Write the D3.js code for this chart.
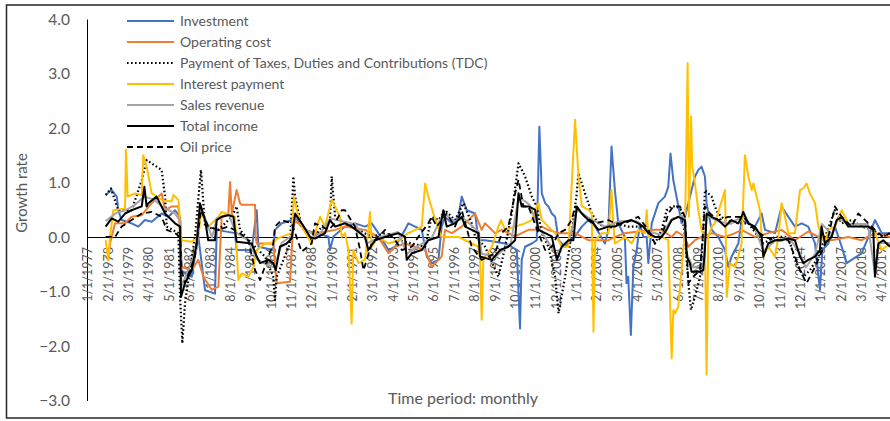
<!DOCTYPE html>
<html>
<head>
<meta charset="utf-8">
<script src="https://cdn.jsdelivr.net/npm/d3@7"></script>
<style>
  body { margin: 0; background: #fff; }
  svg { display: block; font-family: Lato, "Open Sans", sans-serif; }
</style>
</head>
<body>
<script>
// Values: [decimal year, growth rate]
const investment = [
  [1977.94,0.78],[1978.26,0.87],[1978.53,0.75],[1978.61,0.5],[1978.79,0.32],[1979.32,0.26],[1979.68,0.2],
  [1980.03,0.32],[1980.39,0.29],[1980.92,0.44],[1981.28,0.38],[1981.63,0.5],[1981.9,0.38],[1981.98,-0.6],
  [1982.16,-0.66],[1982.52,-0.72],[1982.69,-0.35],[1982.87,0.02],[1983.23,-0.97],[1983.76,-1.03],[1983.85,0.14],
  [1984.82,0.08],[1984.91,-0.23],[1985.71,-0.23],[1985.98,0.5],[1986.07,-0.17],[1986.86,-0.23],[1986.95,0.14],
  [1987.31,0.26],[1987.84,0.32],[1988.02,0.38],[1988.55,0.14],[1989.08,0.08],[1989.79,0.02],[1989.88,-0.23],
  [1990.06,0.02],[1990.68,0.2],[1991.21,0.26],[1991.74,0.2],[1992.1,0.26],[1992.45,0.08],[1992.99,-0.23],
  [1993.34,-0.17],[1993.87,0.14],[1994.05,0.26],[1994.41,0.2],[1994.76,0.14],[1995.03,-0.35],[1995.29,-0.47],
  [1995.65,-0.41],[1995.82,0.2],[1996.0,0.38],[1996.36,0.26],[1996.71,0.38],[1996.89,0.75],[1997.16,0.5],
  [1997.6,0.44],[1997.78,-0.05],[1998.13,-0.05],[1998.66,-0.08],[1999.2,-0.11],[1999.55,-0.17],[1999.82,-0.23],
  [1999.99,-1.67],[2000.08,-0.41],[2000.26,-0.17],[2000.62,-0.11],[2000.88,-0.05],[2001.02,2.03],[2001.15,0.81],
  [2001.33,0.63],[2001.5,0.57],[2001.68,0.44],[2001.86,0.38],[2002.04,-0.05],[2002.39,-0.17],[2002.92,0.02],
  [2003.28,0.2],[2003.63,0.32],[2003.99,0.2],[2004.51,-0.11],[2004.69,0.14],[2004.86,1.67],[2005.04,0.87],
  [2005.22,0.26],[2005.57,0.01],[2005.66,-0.84],[2005.75,-0.72],[2005.89,-1.79],[2006.02,-0.54],[2006.2,-0.23],
  [2006.37,0.26],[2006.55,0.01],[2006.73,0.01],[2006.82,-0.47],[2007.0,0.26],[2007.35,0.63],[2007.7,0.75],
  [2007.88,0.93],[2008.0,1.54],[2008.15,1.05],[2008.32,0.75],[2008.59,0.26],[2008.77,0.38],[2009.12,0.87],
  [2009.3,1.12],[2009.48,1.24],[2009.65,1.3],[2009.83,1.12],[2009.92,0.63],[2010.19,0.14],[2010.54,0.01],
  [2010.9,-0.23],[2011.07,-0.54],[2011.25,-0.35],[2011.61,-0.11],[2011.78,0.32],[2012.49,0.2],[2012.85,0.44],
  [2013.03,0.14],[2013.56,0.08],[2013.91,0.57],[2014.27,0.38],[2014.62,0.2],[2014.98,0.26],[2015.33,0.2],
  [2015.69,-0.11],[2015.95,-0.96],[2016.08,-0.23],[2016.4,-0.11],[2016.75,0.2],[2017.11,-0.17],[2017.37,-0.47],
  [2017.64,-0.41],[2018.17,-0.29],[2018.53,0.01],[2018.88,0.32],[2019.24,0.08],[2019.68,0.08]
];

const operatingCost = [
  [1977.94,-0.35],[1978.08,-0.41],[1978.17,-0.11],[1978.44,0.26],[1978.97,0.26],[1979.32,0.38],[1979.86,0.41],
  [1980.39,0.63],[1980.92,0.81],[1981.1,0.5],[1981.45,0.57],[1981.81,0.57],[1981.98,-0.54],[1982.52,-0.6],
  [1982.87,-0.41],[1983.14,-0.72],[1983.58,-0.96],[1983.94,-0.9],[1984.11,0.38],[1984.47,0.44],[1984.56,1.02],
  [1984.65,0.44],[1984.91,0.87],[1985.09,0.63],[1985.18,0.6],[1985.89,0.6],[1985.92,0.01],[1985.98,-0.11],
  [1986.86,-0.11],[1987.04,-0.84],[1987.75,-0.81],[1987.93,0.32],[1988.2,0.26],[1988.55,0.14],[1989.08,0.08],
  [1989.7,0.11],[1990.15,0.14],[1990.68,0.2],[1991.74,0.14],[1992.45,0.01],[1992.99,-0.29],[1993.34,-0.17],
  [1993.87,-0.11],[1994.94,-0.23],[1995.29,-0.54],[1995.82,-0.35],[1996.0,0.14],[1996.36,0.08],[1996.89,0.2],
  [1997.6,0.44],[1997.95,0.14],[1998.13,0.26],[1998.66,0.08],[1999.02,0.14],[1999.37,0.08],[1999.73,0.02],
  [2000.08,0.08],[2000.44,0.14],[2000.79,0.14],[2001.15,0.2],[2001.5,0.14],[2002.04,0.08],[2002.92,0.08],
  [2003.63,-0.05],[2004.7,-0.05],[2005.04,0.01],[2005.57,0.08],[2006.28,0.11],[2007.17,0.14],[2007.53,0.14],
  [2008.06,0.01],[2008.32,0.11],[2008.77,0.01],[2008.95,-0.17],[2009.3,-0.05],[2009.65,0.01],[2010.19,0.08],
  [2010.9,0.01],[2011.43,0.08],[2011.78,0.14],[2012.49,0.01],[2013.2,0.08],[2013.91,0.14],[2014.62,-0.05],
  [2015.33,0.11],[2015.87,0.01],[2016.57,-0.05],[2017.46,0.01],[2018.17,-0.05],[2018.88,0.08],[2019.68,0.01]
];

const taxesTDC = [
  [1977.94,0.78],[1978.22,0.9],[1978.61,0.5],[1979.32,0.5],[1979.86,1.05],[1980.12,1.42],[1980.92,1.24],
  [1981.1,0.75],[1981.19,0.2],[1981.81,0.08],[1981.9,-1.09],[1982.02,-1.94],[1982.16,-1.21],[1982.69,0.01],
  [1983.01,1.24],[1983.23,0.2],[1983.94,0.14],[1984.65,0.38],[1984.91,0.57],[1985.09,0.14],[1985.71,-0.11],
  [1986.42,-0.35],[1986.86,-0.72],[1986.95,-1.15],[1987.04,-0.72],[1987.75,-0.11],[1987.93,1.12],[1988.02,0.75],
  [1988.37,0.2],[1988.9,-0.05],[1989.44,0.2],[1989.88,0.32],[1989.97,1.12],[1990.15,0.38],[1990.68,0.26],
  [1991.39,0.14],[1992.1,0.01],[1992.81,0.08],[1993.52,-0.05],[1994.23,-0.11],[1994.94,-0.17],[1995.29,0.38],
  [1995.65,0.32],[1996.0,0.5],[1996.53,0.32],[1996.98,0.63],[1997.42,0.26],[1997.6,0.02],[1998.13,-0.17],
  [1998.84,-0.72],[1999.2,-0.17],[1999.55,0.44],[1999.91,1.36],[2000.26,1.12],[2000.62,0.75],[2000.88,0.57],
  [2001.15,0.08],[2001.5,-0.17],[2001.86,-0.72],[2002.04,-1.39],[2002.39,-0.72],[2002.74,0.08],[2003.01,0.81],
  [2003.1,1.18],[2003.45,0.81],[2003.81,0.44],[2004.16,0.26],[2004.7,0.14],[2005.04,0.26],[2005.75,0.2],
  [2006.64,0.2],[2007.17,-0.11],[2007.53,0.14],[2007.79,0.5],[2008.06,0.57],[2008.32,0.57],[2008.59,0.5],
  [2008.77,0.01],[2008.95,-0.84],[2009.09,-1.33],[2009.3,-1.09],[2009.57,-0.72],[2009.74,0.08],[2009.83,0.87],
  [2010.01,0.81],[2010.19,0.75],[2010.36,0.57],[2010.54,0.44],[2010.9,0.32],[2011.61,0.26],[2012.14,0.26],
  [2012.94,-0.11],[2013.56,0.01],[2014.27,0.01],[2014.62,-0.41],[2015.07,-0.72],[2015.42,-0.6],[2015.87,-0.35],
  [2016.22,0.01],[2016.75,0.5],[2017.11,0.26],[2017.64,0.32],[2018.17,0.2],[2018.79,0.14],[2019.24,0.01],
  [2019.68,0.08]
];

const interestPayment = [
  [1977.94,-0.05],[1978.08,-0.41],[1978.17,0.01],[1978.35,0.5],[1978.97,0.53],[1979.02,1.61],[1979.11,0.75],
  [1979.5,0.81],[1979.86,0.78],[1979.94,1.51],[1980.12,1.3],[1980.39,0.81],[1980.92,0.69],[1981.45,0.66],
  [1981.54,0.78],[1981.81,0.69],[1981.98,-0.05],[1982.52,-0.08],[1982.87,0.01],[1983.01,0.44],[1983.4,0.2],
  [1983.94,0.38],[1984.11,0.47],[1984.82,0.38],[1985.0,-0.78],[1985.18,-0.66],[1985.53,-0.72],[1985.8,-0.54],
  [1985.98,-0.23],[1986.42,-0.11],[1986.86,-0.11],[1987.04,-0.02],[1987.84,0.08],[1987.96,0.75],[1988.11,0.5],
  [1988.37,0.2],[1988.9,-0.11],[1989.08,0.08],[1989.35,0.38],[1989.61,0.2],[1989.97,0.69],[1990.15,0.57],
  [1990.41,0.38],[1990.5,0.01],[1990.68,0.08],[1990.86,-0.23],[1991.03,-1.58],[1991.12,-0.23],[1991.39,-0.47],
  [1991.74,-0.41],[1991.92,0.14],[1992.01,0.47],[1992.1,-0.17],[1992.45,0.01],[1992.99,-0.11],[1993.52,-0.05],
  [1994.05,0.08],[1994.41,0.14],[1994.76,0.2],[1994.94,0.99],[1995.11,0.75],[1995.38,0.44],[1995.82,0.01],
  [1996.18,0.01],[1996.71,0.01],[1997.07,-0.05],[1997.78,-0.17],[1997.87,-0.41],[1997.95,-1.51],[1998.04,-0.41],
  [1998.49,-0.17],[1998.84,0.2],[1998.98,0.32],[1999.2,0.14],[1999.73,0.2],[2000.26,0.26],[2000.62,0.32],
  [2000.97,0.63],[2001.15,0.32],[2001.5,0.2],[2001.86,0.08],[2002.21,-0.17],[2002.57,-0.17],[2002.92,2.16],
  [2003.1,1.12],[2003.28,0.57],[2003.63,0.51],[2003.81,0.44],[2003.9,-1.73],[2003.99,-0.05],[2004.34,0.08],
  [2004.7,0.08],[2004.86,0.87],[2004.95,0.26],[2005.04,-0.11],[2005.57,0.01],[2005.93,-0.11],[2006.28,0.14],
  [2006.64,0.08],[2006.73,0.5],[2006.82,0.01],[2007.53,0.01],[2007.88,-0.05],[2008.06,-2.22],[2008.15,-1.33],
  [2008.24,-1.39],[2008.41,-1.27],[2008.59,-0.6],[2008.77,0.14],[2008.91,3.2],[2008.98,0.38],[2009.09,2.22],
  [2009.16,1.3],[2009.3,0.99],[2009.48,0.5],[2009.65,0.14],[2009.83,0.01],[2009.92,-2.52],[2010.01,0.01],
  [2010.19,0.2],[2010.36,0.26],[2010.9,0.87],[2010.99,-1.09],[2011.16,-0.47],[2011.43,-0.54],[2011.61,-0.35],
  [2011.78,-0.11],[2011.96,1.51],[2012.14,1.12],[2012.32,0.87],[2012.41,0.99],[2012.76,0.5],[2012.85,0.01],
  [2012.94,-0.35],[2013.2,-0.17],[2013.56,-0.35],[2013.74,0.01],[2013.91,0.63],[2014.09,0.38],[2014.27,0.08],
  [2014.62,0.08],[2014.89,0.87],[2015.07,0.9],[2015.24,0.99],[2015.42,0.81],[2015.69,0.63],[2015.87,0.2],
  [2016.22,-0.11],[2016.4,0.14],[2016.75,0.2],[2017.11,0.5],[2017.46,0.26],[2017.99,0.2],[2018.53,0.2],
  [2018.88,0.08],[2019.24,-0.23],[2019.68,-0.11]
];

const salesRevenue = [
  [1977.94,0.3],[1978.5,0.45],[1979.0,0.5],[1979.5,0.6],[1980.0,0.75],[1980.5,0.7],[1981.0,0.55],[1981.6,0.45],
  [1981.92,0.3],[1981.97,-0.9],[1982.4,-0.55],[1982.8,-0.2],[1982.98,0.55],[1983.3,0.3],[1983.6,0.0],
  [1983.85,0.35],[1984.5,0.42],[1984.85,0.1],[1985.5,-0.05],[1986.0,-0.4],[1986.5,-0.5],[1986.95,-0.55],
  [1987.3,-0.1],[1987.9,0.05],[1988.05,0.4],[1988.6,0.15],[1989.2,0.0],[1989.9,0.35],[1990.5,0.3],[1991.2,0.25],
  [1991.9,-0.1],[1992.5,0.0],[1993.5,0.1],[1993.97,-0.3],[1994.6,-0.15],[1995.3,0.0],[1995.92,0.45],[1996.5,0.3],
  [1997.0,0.35],[1997.8,0.1],[1997.95,-0.3],[1998.7,-0.35],[1999.5,-0.1],[1999.92,0.75],[2000.5,0.6],
  [2000.95,0.2],[2001.9,-0.3],[2002.6,-0.05],[2003.02,0.5],[2003.7,0.35],[2004.5,0.2],[2005.3,0.3],[2006.2,0.3],
  [2006.9,0.1],[2007.5,0.05],[2008.1,0.35],[2008.7,0.4],[2008.87,-0.3],[2009.2,-0.55],[2009.75,-0.5],
  [2009.93,0.4],[2010.5,0.3],[2011.2,0.25],[2011.85,0.4],[2012.5,0.15],[2012.95,-0.25],[2013.6,-0.05],
  [2014.3,0.0],[2014.9,-0.3],[2015.2,-0.55],[2015.7,-0.3],[2016.05,0.25],[2016.6,0.05],[2016.9,0.35],
  [2017.5,0.25],[2018.5,0.25],[2018.87,-0.65],[2019.1,-0.1],[2019.68,-0.1]
];

const totalIncome = [
  [1977.94,0.2],[1978.26,0.35],[1978.61,0.29],[1978.97,0.44],[1979.32,0.5],[1979.86,0.57],[1980.0,0.93],
  [1980.12,0.57],[1980.21,0.63],[1980.65,0.75],[1981.1,0.44],[1981.63,0.26],[1981.9,0.2],[1981.95,-1.09],
  [1982.16,-0.84],[1982.52,-0.6],[1982.78,-0.11],[1982.96,0.63],[1983.23,0.32],[1983.4,-0.05],[1983.76,-0.05],
  [1983.85,0.32],[1984.11,0.38],[1984.47,0.41],[1984.74,0.38],[1984.82,0.14],[1984.91,-0.08],[1985.71,-0.11],
  [1985.98,-0.35],[1986.16,-0.47],[1986.6,-0.41],[1986.86,-0.47],[1986.99,-0.6],[1987.22,-0.17],[1987.57,-0.11],
  [1987.84,-0.02],[1988.02,0.44],[1988.37,0.26],[1988.82,0.01],[1989.08,-0.02],[1989.61,0.08],[1989.88,0.32],
  [1990.15,0.2],[1990.41,0.23],[1990.68,0.26],[1991.03,0.2],[1991.74,0.01],[1991.92,-0.23],[1992.28,-0.05],
  [1992.81,0.01],[1993.52,0.08],[1993.87,0.01],[1993.96,-0.41],[1994.23,-0.29],[1994.76,-0.23],[1995.11,-0.05],
  [1995.65,0.01],[1995.91,0.5],[1996.09,0.2],[1996.53,0.26],[1996.89,0.38],[1997.07,0.2],[1997.78,0.08],
  [1997.86,-0.35],[1998.49,-0.41],[1998.93,-0.23],[1999.37,-0.17],[1999.73,-0.05],[1999.91,0.81],[2000.08,0.57],
  [2000.44,0.57],[2000.79,0.51],[2000.97,0.14],[2001.33,0.08],[2001.68,0.02],[2001.95,-0.41],[2002.21,-0.17],
  [2002.57,-0.05],[2002.83,-0.05],[2003.01,0.57],[2003.28,0.44],[2003.63,0.32],[2003.9,0.26],[2004.16,0.14],
  [2004.7,0.2],[2005.04,0.2],[2005.57,0.29],[2005.93,0.32],[2006.28,0.26],[2006.55,0.2],[2006.82,0.08],
  [2007.17,0.01],[2007.53,0.01],[2007.79,0.14],[2008.06,0.32],[2008.41,0.38],[2008.77,0.32],[2008.86,-0.35],
  [2009.03,-0.47],[2009.12,-0.63],[2009.48,-0.63],[2009.74,-0.6],[2009.83,-0.23],[2009.92,0.44],[2010.19,0.38],
  [2010.54,0.32],[2010.9,0.2],[2011.25,0.32],[2011.61,0.26],[2011.78,0.38],[2011.87,0.47],[2012.14,0.26],
  [2012.49,0.2],[2012.85,0.01],[2012.94,-0.35],[2013.2,-0.11],[2013.56,-0.05],[2013.91,-0.05],[2014.27,-0.02],
  [2014.62,-0.05],[2014.89,-0.35],[2015.07,-0.47],[2015.33,-0.41],[2015.69,-0.35],[2015.95,-0.23],[2016.04,0.2],
  [2016.22,-0.11],[2016.57,0.01],[2016.84,0.32],[2017.11,0.38],[2017.46,0.2],[2017.99,0.2],[2018.53,0.2],
  [2018.79,0.14],[2018.88,-0.72],[2019.06,-0.11],[2019.32,-0.05],[2019.68,-0.17]
];

const oilPrice = [
  [1977.94,0.01],[1978.44,0.01],[1978.79,0.2],[1979.32,0.32],[1979.86,0.44],[1980.39,0.47],[1980.92,0.38],
  [1981.19,0.14],[1981.63,0.08],[1981.9,0.01],[1981.98,-0.6],[1982.16,-0.84],[1982.69,-0.35],[1983.01,0.5],
  [1983.4,0.2],[1983.94,0.14],[1984.47,0.2],[1985.09,0.08],[1985.53,-0.05],[1985.89,-0.6],[1986.16,-0.78],
  [1986.6,-0.35],[1986.86,-0.11],[1986.95,0.2],[1987.31,0.32],[1987.84,0.26],[1988.37,-0.26],[1988.9,-0.11],
  [1989.08,0.26],[1989.79,0.14],[1990.15,0.26],[1990.5,0.5],[1990.68,0.5],[1991.21,0.2],[1991.48,-0.23],
  [1991.66,-0.6],[1992.1,-0.11],[1992.81,0.14],[1993.34,-0.05],[1993.7,-0.23],[1994.23,-0.17],[1994.58,0.01],
  [1994.85,0.14],[1995.11,0.26],[1995.29,0.38],[1995.56,0.2],[1995.82,0.32],[1996.09,0.44],[1996.53,0.2],
  [1996.89,0.5],[1997.42,-0.17],[1997.95,-0.41],[1998.66,-0.29],[1999.02,0.08],[1999.37,0.2],[1999.73,0.81],
  [1999.91,1.06],[2000.17,0.57],[2000.44,0.57],[2000.97,0.08],[2001.33,-0.23],[2001.68,-0.17],[2002.04,0.08],
  [2002.39,0.14],[2002.74,0.32],[2002.92,0.57],[2003.45,0.38],[2003.99,0.26],[2004.7,0.32],[2005.04,0.26],
  [2005.57,0.26],[2006.28,0.38],[2006.82,0.14],[2007.17,-0.11],[2007.53,0.01],[2007.88,0.44],[2008.15,0.57],
  [2008.5,0.57],[2008.77,0.38],[2008.86,-0.23],[2008.95,-0.84],[2009.21,-0.72],[2009.57,-0.6],[2009.74,0.14],
  [2009.83,0.57],[2010.1,0.44],[2010.54,0.32],[2011.07,0.38],[2011.43,0.38],[2011.87,0.38],[2012.49,0.14],
  [2013.03,0.01],[2013.56,-0.05],[2014.27,-0.05],[2014.62,-0.35],[2014.89,-0.6],[2015.24,-0.84],[2015.69,-0.54],
  [2016.08,-0.23],[2016.4,0.01],[2016.75,0.57],[2017.11,0.38],[2017.64,0.2],[2017.99,0.44],[2018.53,0.26],
  [2018.88,0.14],[2019.32,0.01],[2019.68,0.08]
];

const tickLabels = [
  "1/1/1977","2/1/1978","3/1/1979","4/1/1980","5/1/1981","6/1/1982","7/1/1983","8/1/1984","9/1/1985",
  "10/1/1986","11/1/1987","12/1/1988","1/1/1990","2/1/1991","3/1/1992","4/1/1993","5/1/1994","6/1/1995",
  "7/1/1996","8/1/1997","9/1/1998","10/1/1999","11/1/2000","12/1/2001","1/1/2003","2/1/2004","3/1/2005",
  "4/1/2006","5/1/2007","6/1/2008","7/1/2009","8/1/2010","9/1/2011","10/1/2012","11/1/2013","12/1/2014",
  "1/1/2016","2/1/2017","3/1/2018","4/1/2019"
];
const yTicks = [-3, -2, -1, 0, 1, 2, 3, 4];

const seriesNames = [
  "Investment", "Operating cost", "Payment of Taxes, Duties and Contributions (TDC)",
  "Interest payment", "Sales revenue", "Total income", "Oil price"
];

const width = 890, height = 421;
const textColor = "#595959";

const svg = d3.select("body").append("svg")
    .attr("width", width)
    .attr("height", height);

// chart border (right edge runs off the picture)
svg.append("rect")
    .attr("x", 6.5).attr("y", 5)
    .attr("width", 900).attr("height", 413)
    .attr("fill", "none")
    .attr("stroke", "#262626")
    .attr("stroke-width", 1.5);

const x = d3.scaleLinear().domain([1977, 2019.68]).range([88, 890]);
const y = d3.scaleLinear().domain([-3, 4]).range([401, 19.5]);

// y tick labels
svg.append("g").selectAll("text")
    .data(yTicks)
    .join("text")
    .attr("x", 70)
    .attr("y", d => y(d))
    .attr("dy", "0.35em")
    .attr("text-anchor", "end")
    .style("font-size", "15.5px")
    .attr("fill", textColor)
    .text(d3.format(".1f"));

svg.append("line")
    .attr("x1", 87.5).attr("x2", 87.5)
    .attr("y1", y(4)).attr("y2", y(-3))
    .attr("stroke", "#000").attr("stroke-width", 1);

svg.append("text")
    .attr("transform", `translate(27, 193) rotate(-90)`)
    .attr("text-anchor", "middle")
    .style("font-size", "15px")
    .attr("fill", textColor)
    .text("Growth rate");

// x category labels, one every 13 months
const toYear = s => {
  const [m, , yr] = s.split("/").map(Number);
  return yr + (m - 1) / 12;
};
svg.append("g").selectAll("text")
    .data(tickLabels)
    .join("text")
    .attr("transform", d => `translate(${x(toYear(d))}, 247) rotate(-90)`)
    .attr("dy", "0.35em")
    .attr("text-anchor", "end")
    .style("font-size", "12.5px")
    .attr("fill", textColor)
    .text(d => d);

svg.append("line")
    .attr("x1", 87).attr("x2", 890)
    .attr("y1", y(0)).attr("y2", y(0))
    .attr("stroke", "#000").attr("stroke-width", 1);

svg.append("text")
    .attr("x", 463).attr("y", 404)
    .attr("text-anchor", "middle")
    .style("font-size", "16px")
    .attr("fill", textColor)
    .text("Time period: monthly");

// series styles, drawn in legend order
const series = [
  { data: investment, color: "#4472C4", w: 2, dash: null },
  { data: operatingCost, color: "#ED7D31", w: 2, dash: null },
  { data: taxesTDC, color: "#000", w: 2.2, dash: "1.6,2.4" },
  { data: interestPayment, color: "#FFC000", w: 2, dash: null },
  { data: salesRevenue, color: "#A5A5A5", w: 2, dash: null },
  { data: totalIncome, color: "#000", w: 2, dash: null },
  { data: oilPrice, color: "#000", w: 1.8, dash: "6,4" }
];

const line = d3.line()
    .x(d => x(d[0]))
    .y(d => y(d[1]));

svg.append("g").selectAll("path")
    .data(series)
    .join("path")
    .attr("d", d => line(d.data))
    .attr("fill", "none")
    .attr("stroke", d => d.color)
    .attr("stroke-width", d => d.w)
    .attr("stroke-dasharray", d => d.dash)
    .attr("stroke-linejoin", "round");

// legend
const legend = svg.append("g");
const rows = legend.selectAll("g")
    .data(series.map((s, i) => ({ ...s, name: seriesNames[i] })))
    .join("g")
    .attr("transform", (d, i) => `translate(0, ${21 + i * 21})`);

rows.append("line")
    .attr("x1", 127).attr("x2", 174)
    .attr("stroke", d => d.color)
    .attr("stroke-width", d => d.w)
    .attr("stroke-dasharray", d => d.dash);

rows.append("text")
    .attr("x", 180)
    .attr("dy", "0.35em")
    .style("font-size", "14px")
    .attr("fill", textColor)
    .text(d => d.name);
</script>
</body>
</html>
